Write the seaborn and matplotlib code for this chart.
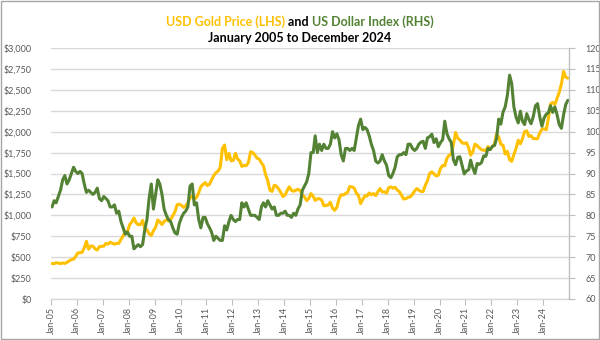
import matplotlib
matplotlib.use("Agg")
import matplotlib.pyplot as plt
import matplotlib.patches as patches
import matplotlib.ticker as mticker
import seaborn as sns
import pandas as pd

# ---- data (monthly, Jan 2005 .. Dec 2024) ----
gold_price = [
    424, 423, 434, 429, 422, 431, 425, 438, 457, 470, 476, 510,      # 2005
    550, 555, 557, 610, 690, 596, 633, 632, 598, 585, 627, 629,      # 2006
    631, 665, 655, 679, 667, 655, 665, 665, 712, 754, 806, 803,      # 2007
    889, 922, 968, 909, 888, 890, 939, 839, 829, 780, 760, 816,      # 2008
    858, 943, 924, 890, 928, 946, 934, 949, 996, 1043, 1127, 1134,   # 2009
    1118, 1095, 1114, 1148, 1205, 1233, 1193, 1215, 1271, 1343, 1370, 1391,  # 2010
    1356, 1372, 1424, 1474, 1510, 1529, 1573, 1800, 1840, 1665, 1739, 1652,  # 2011
    1656, 1742, 1674, 1650, 1585, 1596, 1594, 1630, 1760, 1750, 1721, 1684,  # 2012
    1671, 1627, 1593, 1487, 1414, 1300, 1286, 1360, 1349, 1316, 1275, 1225,  # 2013
    1244, 1300, 1340, 1299, 1287, 1300, 1311, 1296, 1239, 1222, 1176, 1201,  # 2014
    1260, 1227, 1178, 1198, 1199, 1182, 1115, 1117, 1125, 1157, 1086, 1060,  # 2015
    1097, 1199, 1246, 1242, 1260, 1276, 1345, 1340, 1326, 1267, 1236, 1140,  # 2016
    1192, 1234, 1231, 1267, 1246, 1260, 1236, 1283, 1320, 1280, 1283, 1265,  # 2017
    1331, 1340, 1325, 1335, 1303, 1282, 1238, 1195, 1199, 1215, 1221, 1250,  # 2018
    1291, 1320, 1300, 1285, 1284, 1359, 1413, 1500, 1520, 1495, 1471, 1480,  # 2019
    1560, 1597, 1592, 1683, 1716, 1732, 1846, 1990, 1921, 1900, 1866, 1859,  # 2020
    1867, 1808, 1718, 1760, 1850, 1834, 1807, 1785, 1777, 1777, 1821, 1790,  # 2021
    1817, 1856, 1970, 1937, 1849, 1837, 1733, 1765, 1665, 1645, 1726, 1798,  # 2022
    1898, 1855, 1913, 2000, 2010, 1943, 1951, 1918, 1916, 1916, 1985, 2030,  # 2023
    2033, 2024, 2160, 2331, 2350, 2326, 2398, 2470, 2571, 2720, 2650, 2640,  # 2024
]

dollar_index = [
    82.0, 83.5, 83.0, 84.5, 86.0, 88.5, 89.5, 87.5, 88.5, 90.0, 91.5, 90.5,   # 2005
    90.0, 90.5, 90.0, 87.5, 85.5, 86.0, 85.5, 85.0, 85.5, 86.5, 84.0, 83.5,   # 2006
    84.5, 84.0, 83.5, 82.0, 82.0, 82.5, 80.5, 81.0, 78.5, 77.0, 75.5, 76.0,   # 2007
    75.0, 75.0, 72.0, 72.5, 73.0, 72.5, 73.0, 76.5, 79.0, 84.0, 87.5, 81.5,   # 2008
    85.0, 88.5, 87.5, 85.0, 81.5, 80.0, 79.0, 78.5, 77.0, 75.8, 75.5, 78.0,   # 2009
    79.5, 80.5, 81.0, 82.0, 87.0, 87.5, 82.5, 83.0, 79.0, 77.0, 79.5, 79.5,   # 2010
    78.0, 77.0, 76.0, 74.0, 75.0, 74.5, 74.0, 74.0, 77.5, 76.5, 78.5, 80.0,   # 2011
    79.0, 78.5, 79.0, 79.0, 83.0, 82.0, 83.0, 81.5, 80.0, 80.0, 80.0, 79.5,   # 2012
    79.0, 82.0, 83.0, 82.0, 83.5, 82.5, 81.5, 82.0, 80.0, 80.0, 80.5, 80.5,   # 2013
    81.0, 80.0, 80.0, 79.5, 80.5, 80.0, 81.5, 82.5, 86.0, 87.0, 88.0, 90.0,   # 2014
    95.0, 95.0, 99.0, 95.0, 97.0, 95.5, 97.0, 96.0, 96.0, 97.0, 100.0, 98.5,  # 2015
    99.5, 98.0, 94.5, 93.0, 96.0, 96.0, 95.5, 96.0, 95.5, 98.5, 101.5, 103.0, # 2016
    100.5, 101.0, 100.5, 99.0, 97.0, 95.5, 93.0, 92.5, 93.0, 94.5, 93.0, 92.0, # 2017
    89.5, 89.0, 90.0, 91.5, 94.0, 94.5, 94.5, 95.0, 94.5, 97.0, 97.0, 96.0,   # 2018
    95.5, 96.0, 97.0, 97.5, 97.7, 96.0, 98.5, 98.8, 99.4, 97.4, 98.3, 96.4,   # 2019
    97.4, 98.1, 102.5, 99.5, 98.3, 97.4, 93.3, 92.1, 93.9, 94.0, 91.9, 89.9,  # 2020
    90.6, 90.9, 93.2, 91.3, 90.0, 92.4, 92.2, 92.6, 94.2, 94.1, 96.0, 95.7,   # 2021
    96.5, 96.7, 98.3, 103.0, 101.8, 104.7, 105.9, 108.7, 113.5, 111.5, 105.9, 103.5, # 2022
    102.1, 104.9, 102.5, 101.7, 104.3, 102.9, 101.9, 103.6, 106.2, 106.7, 103.5, 101.3, # 2023
    103.3, 104.2, 104.5, 106.2, 104.6, 105.9, 104.1, 101.7, 100.8, 104.0, 106.5, 107.5, # 2024
]

year_labels = [f"Jan-{y % 100:02d}" for y in range(2005, 2025)]
gold_ticks = list(range(0, 3001, 250))
dxy_ticks = list(range(60, 121, 5))

months = pd.date_range("2005-01-01", "2024-12-01", freq="MS") + pd.Timedelta(days=14)
df = pd.DataFrame({"date": months, "gold": gold_price, "dxy": dollar_index})

GOLD = "#FFC000"
GREEN = "#548235"
TICKC = "#595959"
GRID = "#D9D9D9"

sns.set_theme(style="white")
plt.rcParams["font.family"] = ["Lato", "DejaVu Sans"]

fig = plt.figure(figsize=(6, 3.4), dpi=100)
ax = fig.add_axes([51 / 600, 1 - 299 / 340, (569 - 51) / 600, (299 - 48) / 340])
ax2 = ax.twinx()

sns.lineplot(data=df, x="date", y="gold", ax=ax, color=GOLD, linewidth=2.2)
sns.lineplot(data=df, x="date", y="dxy", ax=ax2, color=GREEN, linewidth=2.2)

ax.set_xlim(pd.Timestamp("2005-01-01"), pd.Timestamp("2024-12-31"))
ax.set_ylim(0, 3000)
ax2.set_ylim(60, 120)

ax.set_yticks(gold_ticks)
ax.yaxis.set_major_formatter(mticker.FuncFormatter(lambda v, p: f"${v:,.0f}"))
ax2.set_yticks(dxy_ticks)

xt = [pd.Timestamp(f"{y}-01-01") for y in range(2005, 2025)]
ax.set_xticks(xt)
ax.set_xticklabels(year_labels, rotation=90)

ax.grid(axis="y", color=GRID, linewidth=1.0)
ax.grid(axis="x", visible=False)
ax2.grid(False)
ax.set_axisbelow(True)

for a in (ax, ax2):
    a.set_xlabel("")
    a.set_ylabel("")
    for s in a.spines.values():
        s.set_visible(False)

ax.spines["bottom"].set_visible(True)
ax.spines["bottom"].set_color(GRID)
ax.spines["bottom"].set_linewidth(1.0)
ax2.spines["right"].set_visible(True)
ax2.spines["right"].set_color("#BFBFBF")
ax2.spines["right"].set_linewidth(1.0)

ax.tick_params(axis="x", which="both", bottom=True, length=4, width=0.8, color="#BFBFBF",
               labelsize=6.5, labelcolor=TICKC, pad=2)
ax.tick_params(axis="y", left=False, labelsize=6.5, labelcolor=TICKC, pad=8)
ax2.tick_params(axis="y", right=True, length=4, width=0.8, color="#BFBFBF",
                labelsize=6.5, labelcolor=TICKC, pad=8)

# ---- title (multi-coloured first line) ----
parts = [("USD Gold Price (LHS)", GOLD), (" and ", "black"), ("US Dollar Index (RHS)", GREEN)]
texts = [fig.text(0, 1 - 21.5 / 340, s, color=c, fontsize=9, fontweight="bold",
                  ha="left", va="center") for s, c in parts]
fig.canvas.draw()
r = fig.canvas.get_renderer()
widths = [t.get_window_extent(r).width for t in texts]
x0 = 300 - sum(widths) / 2
for t, w in zip(texts, widths):
    t.set_x(x0 / 600)
    x0 += w
fig.text(300 / 600, 1 - 38.5 / 340, "January 2005 to December 2024", color="black",
         fontsize=9, fontweight="bold", ha="center", va="center")

# frame around figure
fig.patches.append(patches.Rectangle((0.001, 0.002), 0.997, 0.995, transform=fig.transFigure,
                                     fill=False, edgecolor="#A6A6A6", linewidth=1.0))

fig.savefig("out.png", dpi=100)
